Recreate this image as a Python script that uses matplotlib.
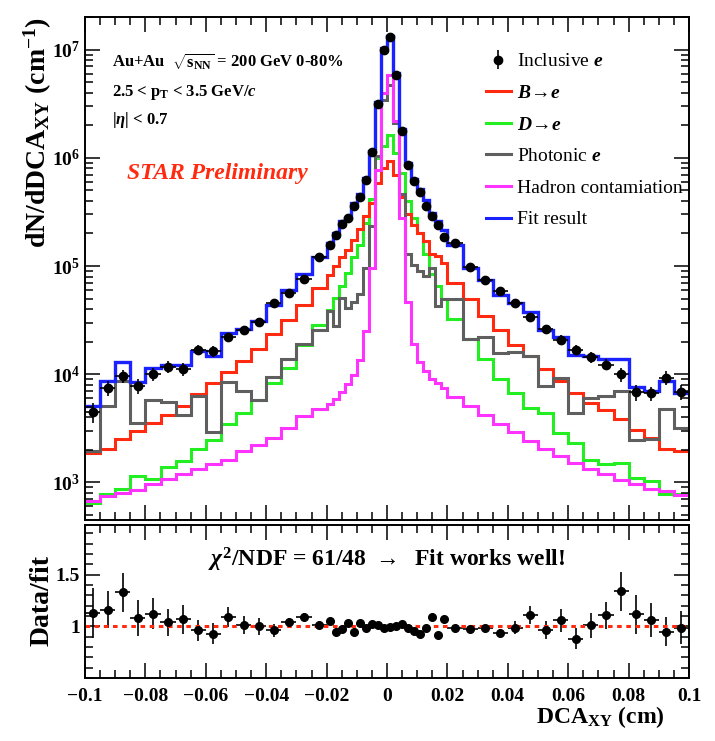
import numpy as np
import matplotlib
matplotlib.use('Agg')
import matplotlib.pyplot as plt
from matplotlib.ticker import FixedLocator, MultipleLocator, LogLocator, FuncFormatter, NullFormatter

plt.rcParams['font.family'] = 'Liberation Serif'
plt.rcParams['font.weight'] = 'bold'
plt.rcParams['mathtext.fontset'] = 'custom'
plt.rcParams['mathtext.rm'] = 'Liberation Serif:bold'
plt.rcParams['mathtext.it'] = 'Liberation Serif:italic:bold'
plt.rcParams['mathtext.bf'] = 'Liberation Serif:bold'

# bornes des classes : 0.005 cm a l'exterieur, 0.002 cm au centre
bords = np.round(np.concatenate([np.arange(-0.1, -0.02, 0.005),
                                 np.arange(-0.02, 0.02, 0.002),
                                 np.arange(0.02, 0.1001, 0.005)]), 4)

# donnees : 16 classes gauche, 20 au centre, 16 a droite
inclusive = [4500, 7500, 9600, 7870, 10100, 11700, 11200, 16700, 16300, 21900, 25700, 30700, 45700, 56400, 76200, 120000,
             155000, 195000, 247000, 279000, 362000, 435000, 620000, 1.13e6, 3.17e6, 1.0e7,
             1.32e7, 5.88e6, 1.78e6, 860000, 607000, 484000, 357000, 288000, 237000, 186000,
             164000, 98400, 75000, 58500, 45100, 33900, 26300, 20900, 16900, 14500, 12300, 9950, 6830, 6640, 9270, 6830]
fit = [5140, 8750, 12900, 8450, 11460, 12300, 12100, 16300, 14900, 24100, 26300, 30900, 44000, 59800, 84700, 122000,
       164000, 203000, 259000, 279000, 383000, 460000, 650000, 1.15e6, 3.3e6, 1.03e7,
       1.34e7, 6.1e6, 1.85e6, 890000, 640000, 510000, 411000, 310000, 259000, 217000,
       158000, 96200, 75000, 54500, 45700, 37800, 25500, 22200, 15200, 14700, 13700, 13700, 7660, 6980, 8630, 6740]
b_e = [1880, 2060, 2530, 2960, 3510, 4190, 5140, 6500, 8220, 10400, 13200, 17200, 23300, 32000, 43200, 62800,
       82000, 99600, 120000, 142000, 173000, 220000, 288000, 383000, 586000, 807000,
       929000, 700000, 430000, 300000, 240000, 200000, 170000, 130000, 125000, 107000,
       70000, 49100, 34400, 25900, 18800, 14700, 11200, 8630, 6740, 5450, 4660, 3820, 3040, 2590, 2050, 1950]
d_e = [650, 775, 875, 1140, 1070, 1400, 1570, 2020, 2460, 3440, 4400, 5750, 8340, 11500, 18800, 28800,
       39000, 51000, 66000, 86000, 122000, 158000, 251000, 420000, 1.0e6, 1.28e6,
       1.64e6, 1.1e6, 720000, 400000, 280000, 200000, 130000, 85000, 65000, 50000,
       32700, 21200, 13700, 8960, 6640, 4900, 4340, 2880, 2330, 1610, 1470, 1500, 1100, 1030, 790, 790]
photonic = [1950, 5070, 8630, 3560, 5750, 5520, 4160, 6270, 2920, 8450, 6980, 5750, 9460, 13900, 19100, 25900,
            38300, 27800, 50800, 41100, 46400, 54600, 96200, 233000, 1.03e6, 3.45e6,
            4.75e6, 2.1e6, 460000, 128000, 103000, 89600, 80600, 96200, 42600, 49100,
            49100, 21200, 22200, 15600, 16000, 14700, 7770, 9270, 4340, 6050, 6270, 6980, 2460, 2540, 4770, 3200]
hadron = [680, 748, 804, 861, 960, 1070, 1190, 1320, 1470, 1630, 1950, 2200, 2590, 3200, 4100, 4800,
          5300, 5900, 6900, 8200, 9800, 13600, 25000, 95000, 778000, 3.98e6,
          5.88e6, 2.18e6, 279000, 47000, 19000, 13000, 10700, 9100, 8340, 7400,
          6200, 5140, 4190, 3480, 2920, 2410, 2060, 1750, 1520, 1340, 1190, 1050, 975, 875, 830, 770]

ratio = [1.13, 1.16, 1.33, 1.08, 1.12, 1.04, 1.07, 0.96, 0.93, 1.09, 1.01, 1.00, 0.96, 1.04, 1.09, 1.01,
         1.051, 0.949, 0.978, 1.035, 0.949, 1.035, 0.981, 1.019, 1.010, 0.985,
         0.997, 1.003, 1.019, 0.987, 0.955, 0.923, 0.981, 1.090, 0.913, 1.067,
         0.987, 0.971, 0.981, 0.933, 0.987, 1.109, 0.965, 1.058, 0.881, 1.010, 1.106, 1.340, 1.115, 1.061, 0.949, 0.987]
ratio_err = [0.24, 0.18, 0.19, 0.17, 0.15, 0.13, 0.14, 0.10, 0.10, 0.10, 0.085, 0.08, 0.06, 0.045, 0.04, 0.03,
             0.03, 0.03, 0.025, 0.025, 0.02, 0.02, 0.015, 0.01, 0.005, 0.003,
             0.003, 0.005, 0.01, 0.015, 0.02, 0.02, 0.025, 0.025, 0.03, 0.03,
             0.025, 0.03, 0.035, 0.04, 0.06, 0.09, 0.09, 0.11, 0.10, 0.12, 0.13, 0.19, 0.19, 0.16, 0.14, 0.16]

centres = (bords[:-1] + bords[1:]) / 2
demi = np.diff(bords) / 2
inclusive = np.array(inclusive)
err_rel = np.array(ratio_err) / np.array(ratio)

fig = plt.figure(figsize=(7.15, 7.41), dpi=100)
ax = fig.add_axes([85/715, 1-520/741, 604/715, 503/741])
axr = fig.add_axes([85/715, 1-678/741, 604/715, 153/741])

ax.stairs(d_e, bords, color='#22ee22', lw=2.2, baseline=None)
ax.stairs(b_e, bords, color='#ff2a10', lw=2.2, baseline=None)
ax.stairs(photonic, bords, color='#5f5f5f', lw=2.2, baseline=None)
ax.stairs(hadron, bords, color='#ff33ff', lw=2.2, baseline=None)
ax.stairs(fit, bords, color='#1a22ff', lw=2.4, baseline=None)
ax.errorbar(centres, inclusive, yerr=inclusive*err_rel, xerr=demi, fmt='o', color='black',
            ms=6, elinewidth=1.2, capsize=0)

ax.set_yscale('log')
ax.set_xlim(-0.1, 0.1)
ax.set_ylim(450, 2e7)

# legende
h_inc = ax.errorbar([np.nan], [np.nan], yerr=[1], fmt='o', color='black', ms=6, elinewidth=1.2)
h = [h_inc] + [plt.Line2D([], [], color=c, lw=2.2) for c in ['#ff2a10', '#22ee22', '#5f5f5f', '#ff33ff', '#1a22ff']]
labels = [r'Inclusive $\mathit{e}$', r'$\mathit{B}\!\rightarrow\!\mathit{e}$', r'$\mathit{D}\!\rightarrow\!\mathit{e}$',
          r'Photonic $\mathit{e}$', 'Hadron contamiation', 'Fit result']
leg = ax.legend(h, labels, loc='upper left', bbox_to_anchor=(476/715, 1-43/741), bbox_transform=fig.transFigure,
                frameon=False, prop={'family': 'Liberation Serif', 'weight': 'normal', 'size': 14},
                handlelength=1.3, handletextpad=0.3, labelspacing=0.72, borderpad=0)

ax.text(0.045, 0.9, r'Au+Au  $\sqrt{\mathrm{s}_{\mathrm{NN}}}$ = 200 GeV 0-80%', transform=ax.transAxes, fontsize=12)
ax.text(0.045, 0.842, r'2.5 < p$_{\mathrm{T}}$ < 3.5 GeV/$\mathit{c}$', transform=ax.transAxes, fontsize=12)
ax.text(0.045, 0.787, r'|$\eta$| < 0.7', transform=ax.transAxes, fontsize=12)
ax.text(0.07, 0.678, 'STAR Preliminary', transform=ax.transAxes, fontsize=17, color='#ff2a10',
        style='italic', weight='bold')

# panneau du rapport
axr.errorbar(centres, ratio, yerr=ratio_err, xerr=demi, fmt='o', color='black', ms=5.5, elinewidth=1.2, capsize=0)
axr.axhline(1, color='#ff2a10', ls=(0, (1.5, 1.5)), lw=2.2)
axr.set_xlim(-0.1, 0.1)
axr.set_ylim(0.5, 1.98)
axr.text(0.5, 0.77, r'$\chi^{2}$/NDF = 61/48 $\rightarrow$  Fit works well!', transform=axr.transAxes,
         fontsize=17, ha='center', va='center')

for a in (ax, axr):
    for s in a.spines.values():
        s.set_linewidth(1.4)
    a.xaxis.set_major_locator(MultipleLocator(0.02))
    a.xaxis.set_minor_locator(MultipleLocator(0.005))
    a.tick_params(which='both', direction='in', top=True, right=True, width=1.1, labelsize=14)
    a.tick_params(which='major', length=11)
    a.tick_params(which='minor', length=5.5)

ax.yaxis.set_major_locator(LogLocator(base=10, numticks=10))
ax.yaxis.set_minor_locator(LogLocator(base=10, subs=np.arange(2, 10), numticks=20))
ax.yaxis.set_minor_formatter(NullFormatter())
ax.xaxis.set_major_formatter(NullFormatter())
axr.yaxis.set_major_locator(FixedLocator([1.0, 1.5]))
axr.yaxis.set_minor_locator(MultipleLocator(0.1))
axr.yaxis.set_major_formatter(FuncFormatter(lambda v, p: f'{v:g}'))
axr.xaxis.set_major_formatter(FuncFormatter(lambda v, p: f'{v:g}'.replace('-', '\u2212') if abs(v) > 1e-9 else '0'))
axr.tick_params(axis='x', pad=7)

fig.text(38/715, 1-132/741, r'dN/dDCA$_{\mathrm{XY}}$ (cm$^{\mathrm{-1}}$)', rotation=90, fontsize=20,
         ha='center', va='center')
fig.text(42/715, 1-600/741, 'Data/fit', rotation=90, fontsize=20, ha='center', va='center')
fig.text(665/715, 1-717/741, r'DCA$_{\mathrm{XY}}$ (cm)', fontsize=17, ha='right', va='center')

fig.savefig('out.png', dpi=100)
